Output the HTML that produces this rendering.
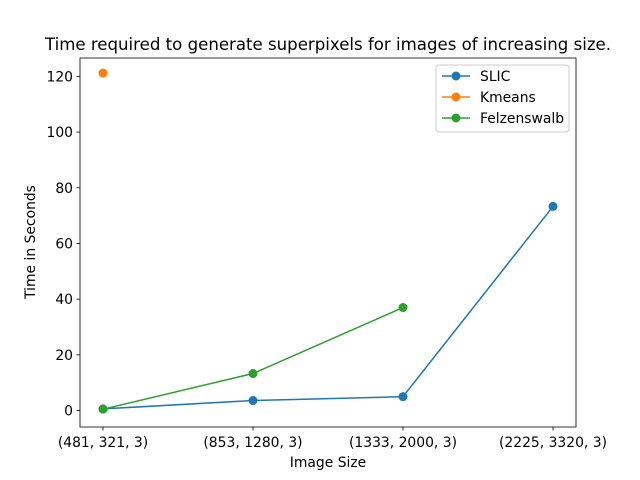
<!DOCTYPE html>
<html><head><meta charset="utf-8"><style>
body{margin:0;background:#fff;}
svg{display:block;font-family:"DejaVu Sans","Liberation Sans",sans-serif;}
</style></head><body>
<svg id="chart" width="640" height="480">
<rect x="0" y="0" width="640" height="480" fill="#fff"/>
<text x="328" y="50" font-size="16.6" text-anchor="middle">Time required to generate superpixels for images of increasing size.</text>
<g id="axes"></g>
<text x="328" y="467" font-size="13.9" text-anchor="middle">Image Size</text>
<text transform="translate(35,242) rotate(-90)" font-size="13.9" text-anchor="middle">Time in Seconds</text>
<g id="legend"></g>
</svg>
<script>
const categories=["(481, 321, 3)","(853, 1280, 3)","(1333, 2000, 3)","(2225, 3320, 3)"];
const yTicks=[0,20,40,60,80,100,120];
const seriesNames=["SLIC","Kmeans","Felzenswalb"];
const slicValues=[0.6,3.6,5.0,73.3];
const kmeansValues=[121.2];
const felzValues=[0.5,13.3,37.0];
const colors=["#1f77b4","#ff7f0e","#2ca02c"];
const L=80,R=576,T=58,B=427;
const yMin=-5.9,yMax=126.6;
function xs(i){return 103+i*150;}
function ys(v){return B-(v-yMin)/(yMax-yMin)*(B-T);}
const NS="http://www.w3.org/2000/svg";
const ax=document.getElementById('axes');
function mk(tag,attrs,parent){const e=document.createElementNS(NS,tag);for(const k in attrs)e.setAttribute(k,attrs[k]);(parent||ax).appendChild(e);return e;}
yTicks.forEach(v=>{
  const y=ys(v);
  const t=mk('line',{x1:L-3.5,x2:L,y1:y,y2:y,stroke:'#000','stroke-width':0.8});
  
  
  const tx=mk('text',{x:L-7,y:y+5,'font-size':13.9,'text-anchor':'end'});
  tx.textContent=v;
  
  
});
categories.forEach((c,i)=>{
  const x=xs(i);
  const t=mk('line',{x1:x,x2:x,y1:B,y2:B+3.5,stroke:'#000','stroke-width':0.8});
  
  
  const tx=mk('text',{x:x,y:B+20,'font-size':13.9,'text-anchor':'middle'});
  tx.textContent=c;
  
  
});
[slicValues,kmeansValues,felzValues].forEach((vals,s)=>{
  const pts=vals.map((v,i)=>xs(i)+','+ys(v)).join(' ');
  const pl=mk('polyline',{points:pts,fill:'none',stroke:colors[s],'stroke-width':1.5});
  
  
  vals.forEach((v,i)=>{
    const c=mk('circle',{cx:xs(i),cy:ys(v),r:4.5,fill:colors[s]});
    
    
  });
});
const frame=mk('rect',{x:L,y:T,width:R-L,height:B-T,fill:'none',stroke:'#000','stroke-width':0.8});


const lg=document.getElementById('legend');
mk('rect',{x:436,y:65,width:133,height:67,rx:3,fill:'#fff',stroke:'#ccc','stroke-width':1},lg);
seriesNames.forEach((n,i)=>{
  const y=76+i*21;
  const ln=mk('line',{x1:442,x2:470,y1:y,y2:y,stroke:colors[i],'stroke-width':1.5},lg);
  
  
  mk('circle',{cx:456,cy:y,r:4.5,fill:colors[i]},lg);
  const t=mk('text',{x:480,y:y+5,'font-size':13.9},lg);
  t.textContent=n;
  
  
});
</script>
</body></html>
